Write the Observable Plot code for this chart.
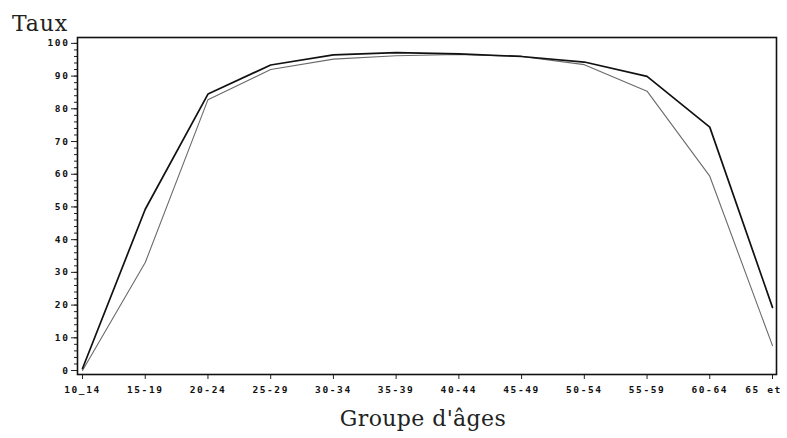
<!DOCTYPE html>
<html>
<head>
<meta charset="utf-8">
<script src="https://cdn.jsdelivr.net/npm/d3@7"></script>
<script src="https://cdn.jsdelivr.net/npm/@observablehq/plot@0.6"></script>
<style>
  body { margin: 0; background: #fff; }
  svg { display: block; }
</style>
</head>
<body>
<div id="chart"></div>
<script>
const ageGroups = ["10_14","15-19","20-24","25-29","30-34","35-39","40-44","45-49","50-54","55-59","60-64","65 et"];
const serieA = [0.6, 49.3, 84.5, 93.4, 96.5, 97.2, 96.8, 96.0, 94.3, 89.9, 74.4, 19.3];
const serieB = [0.0, 33.0, 82.8, 92.0, 95.2, 96.2, 96.6, 96.0, 93.5, 85.4, 59.4, 7.6];
const yMajor = [0,10,20,30,40,50,60,70,80,90,100];
const yMinor = d3.range(0, 101, 2);
const yTitle = "Taux";
const xTitle = "Groupe d'âges";

const rows = [];
ageGroups.forEach((g, i) => {
  rows.push({i, serie: "A", v: serieA[i]});
  rows.push({i, serie: "B", v: serieB[i]});
});

const tickFont = "'DejaVu Sans Mono', monospace";

const plot = Plot.plot({
  width: 787,
  height: 438,
  marginLeft: 77,
  marginRight: 11,
  marginTop: 37,
  marginBottom: 64,
  style: {background: "#fff", color: "#111"},
  x: {type: "linear", domain: [-0.08, 11.064], axis: null},
  y: {type: "linear", domain: [-1.22, 101.8], axis: null},
  marks: [
    Plot.axisY({ticks: yMinor, tickSize: 3, tickFormat: () => "", label: null, stroke: "#222"}),
    Plot.axisY({ticks: yMajor, tickSize: 6, tickPadding: 2, tickFormat: d => String(d),
      fontSize: 9.5, fontWeight: "bold", fontFamily: tickFont, label: null, stroke: "#222"}),
    Plot.axisX({ticks: d3.range(ageGroups.length), tickSize: 5, tickPadding: 7,
      tickFormat: i => ageGroups[i], fontSize: 9.5, fontWeight: "bold", fontFamily: tickFont,
      label: null, stroke: "#222"}),
    Plot.line(rows.filter(d => d.serie === "B"), {x: "i", y: "v", stroke: "#6a6a6a", strokeWidth: 1.1}),
    Plot.line(rows.filter(d => d.serie === "A"), {x: "i", y: "v", stroke: "#111", strokeWidth: 1.7}),
    Plot.frame({stroke: "#111", strokeWidth: 1.6})
  ]
});

const svg = d3.select(plot);
svg.selectAll("g[aria-label='y-axis tick label'] text, g[aria-label='x-axis tick label'] text")
  .style("letter-spacing", "1.6px");
const xLabels = svg.selectAll("g[aria-label='x-axis tick label'] text").nodes();
if (xLabels.length) {
  const last = xLabels[xLabels.length - 1];
  last.setAttribute("dx", "-9");
}
svg.append("text")
  .attr("x", 12).attr("y", 31)
  .attr("text-anchor", "start")
  .attr("font-family", "'DejaVu Serif', serif")
  .attr("font-size", 22)
  .attr("letter-spacing", "0.8px")
  .attr("fill", "#222")
  .text(yTitle);
svg.append("text")
  .attr("x", 423).attr("y", 426)
  .attr("text-anchor", "middle")
  .attr("font-family", "'DejaVu Serif', serif")
  .attr("font-size", 22)
  .attr("letter-spacing", "0.4px")
  .attr("fill", "#222")
  .text(xTitle);

document.getElementById("chart").appendChild(plot);
</script>
</body>
</html>
